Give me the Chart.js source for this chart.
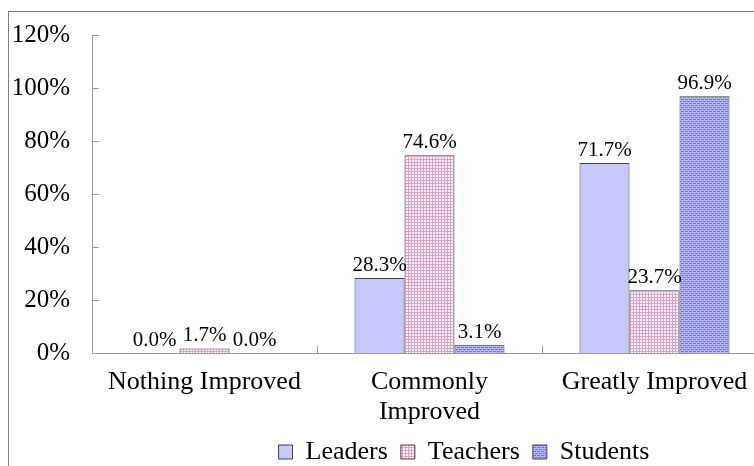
<!DOCTYPE html>
<html><head><meta charset="utf-8">
<script src="https://cdn.jsdelivr.net/npm/chart.js@4.4.0/dist/chart.umd.min.js"></script>
<style>
html,body{margin:0;padding:0;background:#fff;overflow:hidden;width:754px;height:466px;}
#frame{position:absolute;left:8px;top:11px;width:900px;height:600px;border-left:1px solid #7f7f7f;border-top:1px solid #7f7f7f;}
#c{position:absolute;left:9px;top:12px;}
</style></head><body>
<div id="frame"></div>
<canvas id="c" width="800" height="463"></canvas>
<script>
// ---- data ----
const categories = ['Nothing Improved', ['Commonly', 'Improved'], 'Greatly Improved'];
const seriesNames = ['Leaders', 'Teachers', 'Students'];
const leaders = [0.0, 28.3, 71.7];
const teachers = [1.7, 74.6, 23.7];
const students = [0.0, 3.1, 96.9];
const yMax = 120;
const yStep = 20;

const FONT = '"Liberation Serif", "Times New Roman", serif';

function makePattern(w, h, base, marks, markColor) {
  const c = document.createElement('canvas');
  c.width = w; c.height = h;
  const g = c.getContext('2d');
  g.fillStyle = base; g.fillRect(0, 0, w, h);
  g.fillStyle = markColor;
  marks.forEach(([x, y]) => g.fillRect(x, y, 1, 1));
  return document.getElementById('c').getContext('2d').createPattern(c, 'repeat');
}
const patLeaders = makePattern(2, 2, '#d0d0ff', [[0,0],[1,1]], '#c0c0f6');
const patTeachers = makePattern(3, 3, '#fbf1f6', [[0,0],[1,0],[2,0],[0,1],[0,2]], '#dca2c8');
const patStudents = makePattern(4, 4, '#7474ff', [[0,0],[1,0],[2,0],[3,0],[1,1],[0,2],[1,2],[2,2],[3,2],[3,3]], '#b4b4ff');

const valueLabels = {
  id: 'valueLabels',
  afterDatasetsDraw(chart) {
    const ctx = chart.ctx;
    ctx.save();
    ctx.font = '21px ' + FONT;
    ctx.fillStyle = '#000';
    ctx.textAlign = 'center';
    ctx.textBaseline = 'alphabetic';
    chart.data.datasets.forEach((ds, i) => {
      chart.getDatasetMeta(i).data.forEach((bar, j) => {
        ctx.fillText(ds.data[j].toFixed(1) + '%', bar.x, bar.y - 7);
      });
    });
    ctx.restore();
  }
};

const innerTicks = {
  id: 'innerTicks',
  afterDraw(chart) {
    const ctx = chart.ctx;
    const x = chart.scales.x, y = chart.scales.y;
    ctx.save();
    ctx.strokeStyle = '#9a9a9a';
    ctx.lineWidth = 1;
    ctx.beginPath();
    for (let v = 0; v <= yMax; v += yStep) {
      const py = Math.round(y.getPixelForValue(v)) + 0.5;
      ctx.moveTo(x.left, py); ctx.lineTo(x.left + 7, py);
    }
    for (let i = 0; i <= categories.length; i++) {
      const px = Math.round(x.getPixelForValue(i - 0.5)) + 0.5;
      ctx.moveTo(px, y.bottom); ctx.lineTo(px, y.bottom - 7);
    }
    ctx.stroke();
    ctx.restore();
  }
};

const legendShift = {
  id: 'legendShift',
  afterLayout(chart) {
    const lg = chart.legend;
    if (!lg) return;
    const w = lg.right - lg.left;
    lg.left = 455 - w / 2;
    lg.right = lg.left + w;
  }
};

const mk = (name, data, bg) => ({
  label: name, data, backgroundColor: bg,
  borderColor: '#404040', borderWidth: 1,
  barPercentage: 1, categoryPercentage: 150 / 225
});

new Chart(document.getElementById('c'), {
  type: 'bar',
  data: {
    labels: categories,
    datasets: [
      mk(seriesNames[0], leaders, patLeaders),
      mk(seriesNames[1], teachers, patTeachers),
      mk(seriesNames[2], students, patStudents)
    ]
  },
  options: {
    responsive: false,
    animation: false,
    devicePixelRatio: 1,
    layout: { padding: { left: 0, right: 42, top: 23, bottom: 0 } },
    scales: {
      x: {
        afterFit(s) { s.height = 73; s.paddingLeft = 0; s.paddingRight = 0; },
        grid: { display: false, offset: true, drawTicks: false },
        border: { display: true, color: '#9a9a9a', width: 1 },
        ticks: { color: '#000', font: { family: FONT, size: 26, lineHeight: 1.12 }, padding: 15, maxRotation: 0, autoSkip: false }
      },
      y: {
        min: 0, max: yMax,
        afterFit(s) { s.width = 83; s.paddingTop = 0; s.paddingBottom = 0; },
        grid: { display: false, drawTicks: false },
        border: { display: true, color: '#9a9a9a', width: 1 },
        ticks: { stepSize: yStep, color: '#000', font: { family: FONT, size: 25 }, padding: 22,
          callback: v => v + '%' }
      }
    },
    plugins: {
      legend: {
        position: 'bottom',
        labels: { color: '#000', font: { family: FONT, size: 26 }, boxWidth: 14, boxHeight: 14, padding: 13 }
      },
      tooltip: { enabled: false }
    }
  },
  plugins: [valueLabels, innerTicks, legendShift]
});
</script>
</body></html>
